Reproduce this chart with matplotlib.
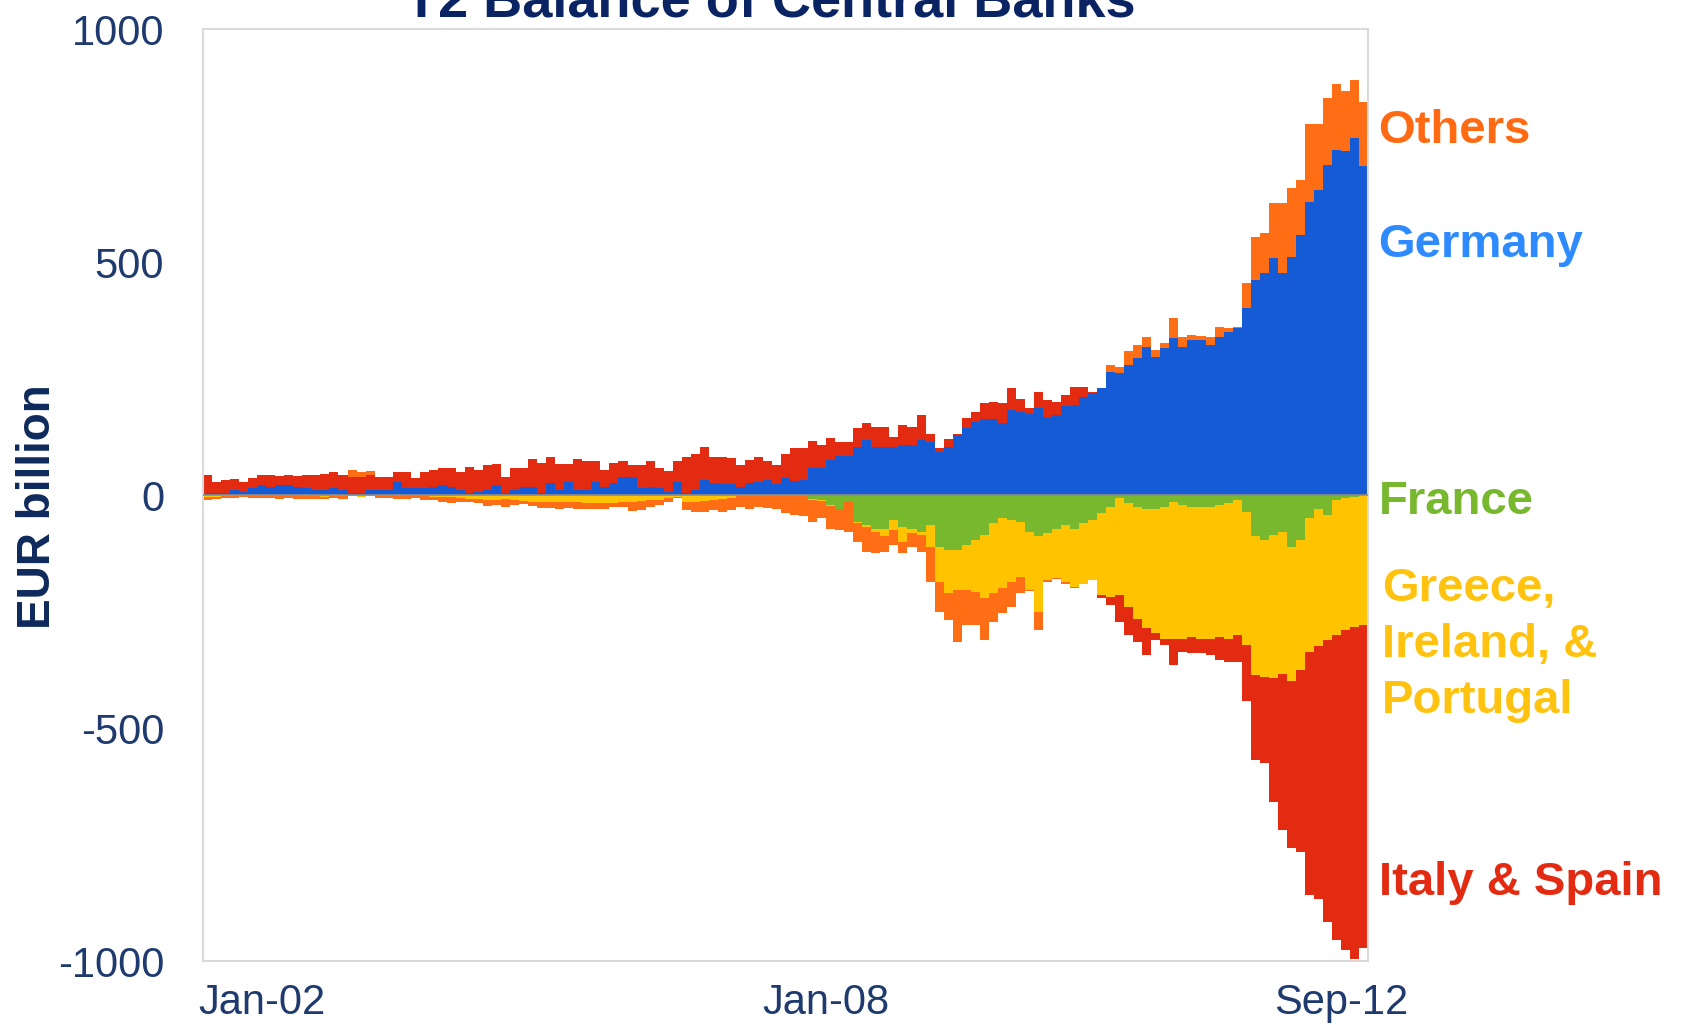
import numpy as np
import matplotlib.pyplot as plt
import matplotlib.transforms as mtransforms

plt.rcParams['font.family'] = ['Liberation Sans', 'DejaVu Sans']

# monthly T2 balances, EUR billion, Jan-02 .. Sep-12
germany = [4, 4, 4, 11, 6, 14, 21, 18, 21, 21, 18, 14, 11, 11, 14, 11, 4, 4, 11, 11, 11, 29,
           14, 14, 14, 18, 21, 18, 11, 4, 7, 11, 21, 4, 11, 18, 18, 4, 25, 11, 29, 11, 11, 29,
           18, 25, 39, 39, 14, 18, 14, 7, 29, 4, 11, 32, 25, 23, 23, 18, 25, 29, 32, 23, 37, 30,
           32, 57, 59, 75, 84, 84, 104, 118, 102, 102, 104, 107, 107, 118, 114, 93, 104, 129,
           143, 157, 163, 163,
           154, 182, 179, 173, 186, 168, 172, 190, 193, 211, 218, 229, 265, 261, 279, 293, 318,
           297, 315, 336, 318, 333, 333, 322, 340, 350, 358, 401, 461, 476, 508, 476, 511, 558,
           629, 654, 708, 740, 738, 766, 705]
italy_spain = [39, 25, 28, 23, 23, 22, 23, 26, 20, 23, 23, 29, 33, 35, 35, 32, 35, 35, 32, 28, 28,
               21, 36, 22, 36, 36, 36, 39, 39, 57, 47, 53, 45, 35, 46, 39, 59, 64, 57, 55, 37, 66,
               61, 43,
               36, 43, 33, 25, 50, 54, 43, 45, 43, 78, 78, 72, 57, 59, 56, 46, 50, 53, 40, 41, 52,
               70, 68, 59, 48, 47, 30, 30, 39, 36, 45, 45, 21, 43, 40, 54, 16, 7, 16, 3, 22, 22,
               34, 37,
               43, 47, 28, 13, 36, 36, 28, 25, 39, 21, 4,
               -7, -18, -57, -60, -50, -57, -14, -14, -57, -28, -36, -32, -35, -50, -50, -58, -121,
               -183, -186, -265, -336, -358, -389, -522, -541, -605, -655, -686, -712, -694]
france = [0] * 67 + [
    -9, -11, -21, -29, -14, -57, -64, -72, -72, -54, -68, -72, -79, -64, -111, -118, -118, -107,
    -97, -86, -61,
    -50, -54, -57, -79, -89, -82, -72, -64, -72, -61, -54, -39, -25, -7, -18, -25, -29, -29, -25,
    -14, -21, -25, -25, -25, -21, -18, -11, -36, -89, -97, -86, -79, -111, -97, -50, -29, -43,
    -11, -7, -4, -1]
gip = [-4, -5, -3, -2, -2, -2, -3, -2, -2, -3, -3, -2, -3, -4, -3, -2, -3, -4, -3, -2, -2, -3, -3,
       -2, -3, -4, -5, -5, -6, -8, -8, -10, -10, -8, -10, -12, -14, -15, -14, -15, -16, -16, -18,
       -17,
       -18, -18, -16, -14, -13, -11, -11, -7, -4, -14, -16, -13, -11, -9, -6, -2, -2, -2, -2, -2,
       -3, -3, -3, -2, -2, -2, -2, -2, -4, -4, -7, -17, -21, -32, -10, -7, -47, -75, -93, -86,
       -97, -111, -136, -150,
       -150, -132, -118, -125, -161, -100, -107, -122, -125, -129, -128, -176, -193, -208, -222,
       -240, -257, -268, -283, -294, -287, -279, -283, -283, -283, -290, -289, -286, -297, -293,
       -307, -304, -289, -279, -286, -296, -268, -289, -283, -279, -278]
others = [-6, -3, -3, -4, -3, -5, -4, -5, -6, -4, -5, -7, -6, -5, -4, -6, 15, 11, 9, -5, -4, -6,
          -5, -4, -8, -6, -10, -12, -8, -6, -10, -14, -12, -18, -12, -8, -10, -12, -14, -15, -12,
          -14, -12, -14,
          -11, -7, -9, -20, -19, -14, -10, -9, -3, -18, -21, -23, -21, -27, -26, -23, -27, -23,
          -25, -27, -36, -40, -43, -46, -37, -49, -44, -63, -39, -54, -46, -33, -32, -25, -29,
          -36, -75, -64, -57, -111, -75, -71, -89, -61,
          -54, -54, -36, -3, -40, -4, -1, -4, -3, -2, 0, 0, 14, 14, 29, 29, 22, 14, 12, 43, 22,
          10, 9, 18, 21, 8, 3, 53, 93, 86, 118, 150, 147, 118, 168, 143, 143, 143, 128, 125, 139]

tick_pos = [6.5, 69, 126]
tick_labels = ["Jan-02", "Jan-08", "Sep-12"]

series = {
    "Germany": (germany, "#155BD5"),
    "France": (france, "#78B82E"),
    "GIP": (gip, "#FFC300"),
    "Italy & Spain": (italy_spain, "#E32B12"),
    "Others": (others, "#FF6E14"),
}
pos_order = ["Germany", "France", "GIP", "Italy & Spain", "Others"]
neg_order = ["France", "GIP", "Italy & Spain", "Others", "Germany"]

navy = "#1E3A6E"

fig = plt.figure(figsize=(16.89, 10.25), dpi=100)
ax = fig.add_axes([0.1202, 0.0624, 0.6898, 0.9093])

n = len(germany)
x = np.arange(n)
pos_bottom = np.zeros(n)
neg_bottom = np.zeros(n)
for name in pos_order:
    vals, col = series[name]
    v = np.clip(np.array(vals, dtype=float), 0, None)
    ax.bar(x, v, width=1.0, bottom=pos_bottom, align="edge", color=col,
           linewidth=0, antialiased=False)
    pos_bottom += v
for name in neg_order:
    vals, col = series[name]
    v = np.clip(np.array(vals, dtype=float), None, 0)
    ax.bar(x, v, width=1.0, bottom=neg_bottom, align="edge", color=col,
           linewidth=0, antialiased=False)
    neg_bottom += v

ax.axhline(0, color="#8C8C8C", lw=1.2, zorder=3)

ax.set_xlim(0, n)
ax.set_ylim(-1000, 1000)
ax.set_yticks([-1000, -500, 0, 500, 1000])
ax.set_yticklabels(["-1000", "-500", "0", "500", "1000"])
ax.set_xticks(tick_pos)
ax.set_xticklabels(tick_labels)
ax.tick_params(axis="y", length=0, pad=28, labelsize=30, labelcolor=navy)
ax.tick_params(axis="x", length=0, pad=16, labelsize=30, labelcolor=navy)
for s in ax.spines.values():
    s.set_color("#DADADA")
    s.set_linewidth(1.5)

fig.text(0.0225, 0.506, "EUR billion", rotation=90, ha="center", va="center",
         fontsize=33, fontweight="bold", color="#0E2A5C")
fig.text(0.456, 0.984, "T2 Balance of Central Banks", ha="center", va="baseline",
         fontsize=39, fontweight="bold", color="#0A2463")

trans = mtransforms.blended_transform_factory(ax.transAxes, ax.transData)
labels = [
    (1.009, 781, "Others", "#FF6A13"),
    (1.009, 536, "Germany", "#2E8BFF"),
    (1.009, -16, "France", "#77B82E"),
    (1.012, -322, "Greece,\nIreland, &\nPortugal", "#FFC20E"),
    (1.009, -833, "Italy & Spain", "#E32B12"),
]
for lx, ly, txt, col in labels:
    ax.text(lx, ly, txt, transform=trans, ha="left", va="center", fontsize=34,
            fontweight="bold", color=col, linespacing=1.35, clip_on=False)

fig.savefig("out.png", dpi=100)
